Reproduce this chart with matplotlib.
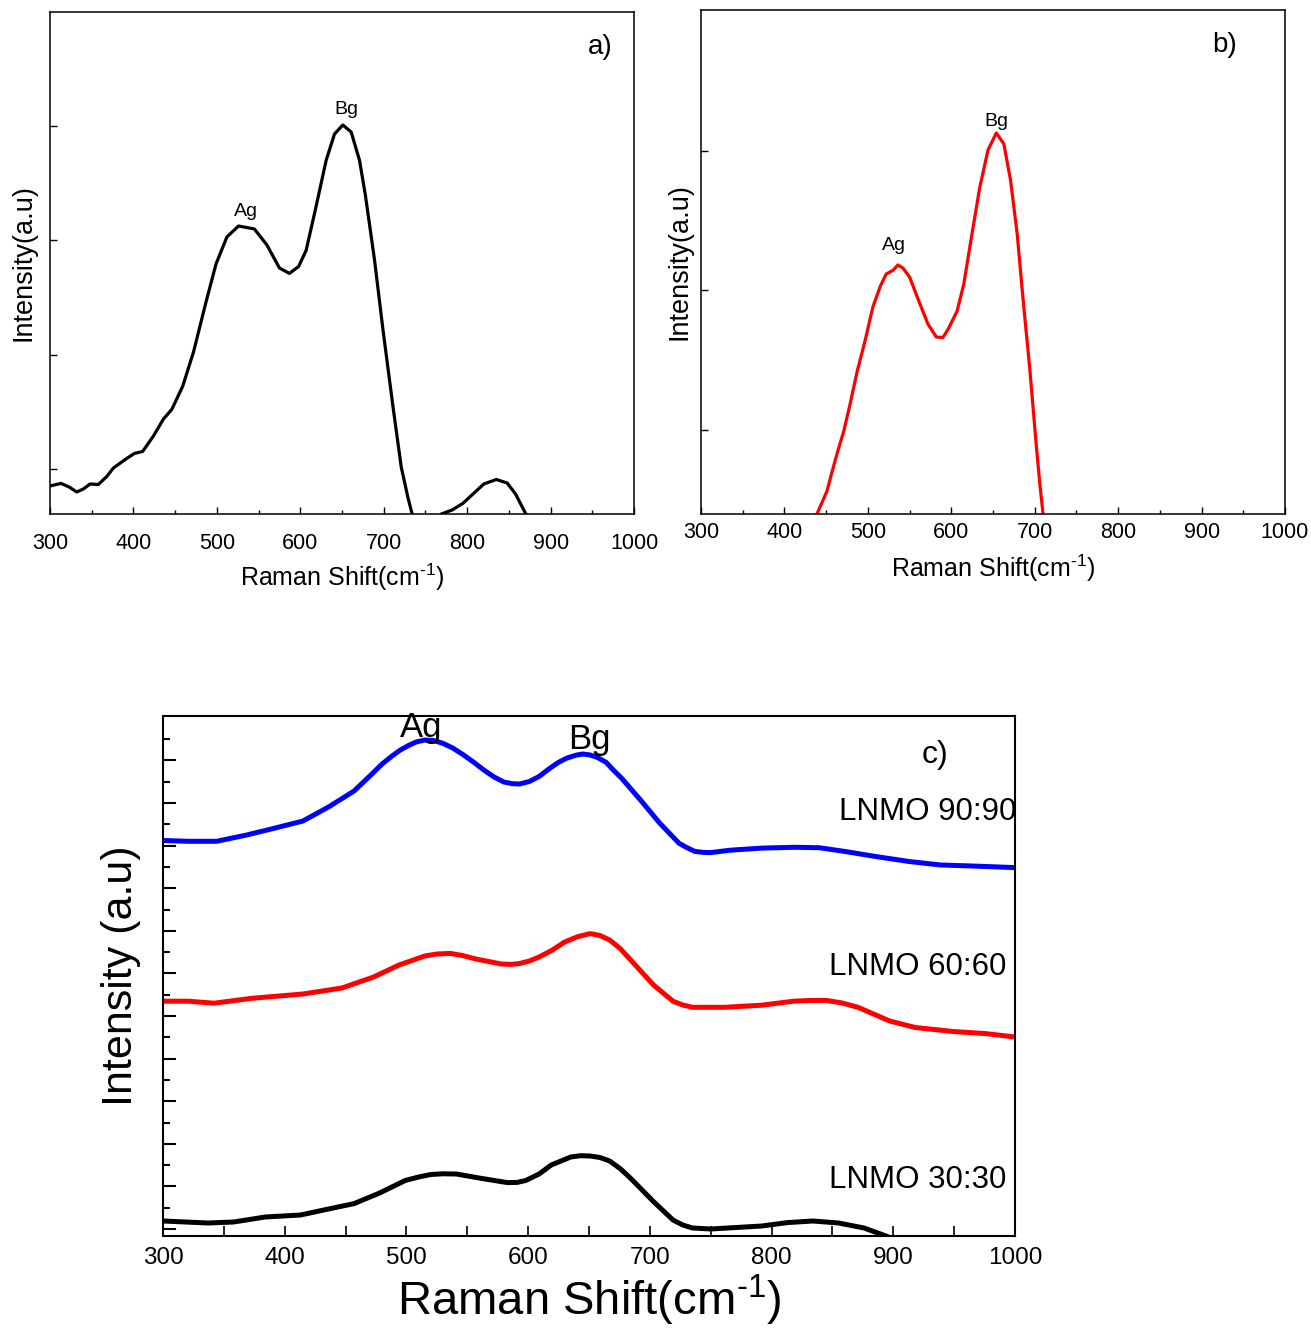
import numpy as np
import matplotlib
matplotlib.use("Agg")
import matplotlib.pyplot as plt
from matplotlib.ticker import MultipleLocator, NullFormatter

plt.rcParams['font.family'] = ['Liberation Sans', 'DejaVu Sans']
plt.rcParams['mathtext.fontset'] = 'custom'
plt.rcParams['mathtext.rm'] = 'Liberation Sans'

# ---- panel a (black spectrum) ----
a_shift = [300, 313, 323, 332, 340, 348, 358, 368, 376, 391, 401, 411, 424, 436,
           446, 459, 472, 487, 499, 512, 526, 545, 560, 575, 587, 598, 607, 618,
           631, 641, 651, 661, 671, 678, 689, 699, 711, 721, 729, 735, 750, 769,
           782, 795, 807, 820, 835, 848, 858, 871, 880]
a_int = [28, 30.6, 27, 22, 25, 30, 29.5, 37.5, 46, 55, 60.5, 62.5, 78, 95,
         104.6, 127.6, 162, 212, 250, 277, 288, 285, 269, 246, 240.6, 247.5,
         263.6, 304, 353.6, 380, 389, 382, 353.6, 319, 254, 185, 108, 47, 16.5,
         -3, -25, 0, 4, 10.7, 20, 30, 34.5, 31, 20, -1, -20]

# ---- panel b (red spectrum) ----
b_shift = [430, 439, 445, 451, 457, 464, 471, 479, 487, 497, 506, 515, 522, 530,
           536, 542, 550, 562, 572, 582, 590, 597, 607, 615, 624, 634, 644, 654,
           663, 671, 679, 686, 694, 701, 706, 710, 715]
b_int = [-30, 0, 11.5, 23, 42, 63, 82.5, 111, 142, 174.5, 207, 228, 240, 243.6,
         249, 246, 237, 211, 190, 177, 176.5, 186, 203, 230, 276, 326, 364, 381,
         370, 334, 280, 215, 146, 77, 31, 0, -20]

# ---- panel c (three samples) ----
c90_shift = [300, 321, 344, 368, 389, 415, 436, 457, 473, 480, 488, 495, 502, 508,
             515, 522, 530, 538, 546, 555, 564, 572, 580, 587, 593, 601, 609, 617,
             625, 632, 640, 645, 651, 657, 664, 670, 677, 693, 708, 724, 731, 737,
             744, 750, 766, 792, 818, 839, 860, 886, 913, 939, 965, 1000]
c90_int = [395.5, 394.7, 394.7, 400.8, 407, 415, 429, 445, 463.6, 472, 479.8, 486,
           490.7, 494, 496, 495.5, 492.7, 488, 481.8, 474, 465.6, 459, 454, 452.3,
           452, 454.5, 459.5, 467, 473.7, 478, 481, 482, 481, 478.5, 473.7, 466,
           457.5, 435, 413, 392.7, 388, 384.6, 383.6, 383.4, 385.8, 387.9, 388.7,
           388.3, 384.6, 379.4, 374.5, 371, 370, 368.4]

c60_shift = [300, 321, 342, 373, 415, 447, 473, 494, 515, 525, 536, 546, 557, 578,
             586, 593, 601, 609, 620, 630, 641, 651, 659, 667, 676, 685, 703, 719,
             727, 735, 761, 792, 818, 831, 845, 858, 871, 897, 918, 949, 976, 1000]
c60_int = [234.8, 234.8, 232.8, 237.7, 242, 248, 259, 271, 280, 282, 282.6, 280.5,
           277, 272, 271.6, 272.5, 275, 279, 286, 294, 299.5, 302.4, 300.5, 296,
           287, 275, 251, 234.8, 231, 228.7, 228.7, 230.8, 234.8, 235.5, 235.6,
           233, 228.7, 215, 208.5, 204.5, 202.4, 199]

c30_shift = [300, 337, 358, 384, 413, 436, 457, 478, 499, 510, 520, 530, 541, 562,
             583, 591, 598, 609, 619, 635, 643, 651, 659, 667, 676, 685, 703, 719,
             727, 735, 750, 792, 813, 834, 855, 876, 894, 910]
c30_int = [15, 13, 14, 19, 21, 27, 32.4, 43, 55.5, 59, 61.5, 62.2, 62, 57.5, 53.4,
           53.6, 55.5, 62, 71, 79, 80.3, 80, 78.5, 75, 67, 56.7, 34.4, 16, 11, 8, 7,
           10, 13.4, 15, 13, 8, 0, -8]

sample_labels = ["LNMO 90:90", "LNMO 60:60", "LNMO 30:30"]
x_label = r"Raman Shift(cm$^{\text{-1}}$)"

W, H = 1311, 1333
fig = plt.figure(figsize=(W / 100, H / 100), dpi=100)


def box(l, t, r, b):
    return [l / W, 1 - b / H, (r - l) / W, (b - t) / H]


def style_small(ax, yticks, pad, xlpad, ylpad):
    ax.set_xlim(300, 1000)
    ax.xaxis.set_major_locator(MultipleLocator(100))
    ax.xaxis.set_minor_locator(MultipleLocator(50))
    ax.set_yticks(yticks)
    ax.yaxis.set_major_formatter(NullFormatter())
    ax.tick_params(direction='in', top=False, right=False, labelsize=15.5,
                   length=5, width=1, pad=pad)
    ax.tick_params(which='minor', direction='in', length=3, width=1)
    for s in ax.spines.values():
        s.set_linewidth(1.1)
    ax.set_xlabel(x_label, fontsize=18, labelpad=xlpad)
    ax.set_ylabel("Intensity(a.u)", fontsize=19.5, labelpad=ylpad)


# panel a
ax_a = fig.add_axes(box(50, 12, 634, 514))
ax_a.plot(a_shift, a_int, color='black', lw=2.3, solid_joinstyle='round')
ax_a.set_ylim(0, 502)
style_small(ax_a, [45, 159.5, 274, 388.5], pad=14, xlpad=5, ylpad=-4)
ax_a.text(535, 302, "Ag", fontsize=14, ha='center', va='center')
ax_a.text(655, 404, "Bg", fontsize=14, ha='center', va='center')
ax_a.text(959, 467, "a)", fontsize=20, ha='center', va='center')

# panel b
ax_b = fig.add_axes(box(701, 10, 1285, 514))
ax_b.plot(b_shift, b_int, color='red', lw=2.3, solid_joinstyle='round')
ax_b.set_ylim(0, 504)
style_small(ax_b, [84, 224, 363], pad=6, xlpad=7, ylpad=0)
ax_b.text(531, 268, "Ag", fontsize=14, ha='center', va='center')
ax_b.text(654, 393, "Bg", fontsize=14, ha='center', va='center')
ax_b.text(927, 469, "b)", fontsize=20, ha='center', va='center')

# panel c
ax_c = fig.add_axes(box(163, 716, 1015, 1236))
ax_c.plot(c90_shift, c90_int, color='blue', lw=3.6, solid_joinstyle='round')
ax_c.plot(c60_shift, c60_int, color='red', lw=3.6, solid_joinstyle='round')
ax_c.plot(c30_shift, c30_int, color='black', lw=3.6, solid_joinstyle='round')
ax_c.set_xlim(300, 1000)
ax_c.set_ylim(0, 520)
ax_c.xaxis.set_major_locator(MultipleLocator(100))
ax_c.xaxis.set_minor_locator(MultipleLocator(50))
ax_c.set_yticks(np.arange(7, 480, 42.6))
ax_c.set_yticks(np.arange(28.3, 500, 42.6), minor=True)
ax_c.yaxis.set_major_formatter(NullFormatter())
ax_c.yaxis.set_minor_formatter(NullFormatter())
ax_c.tick_params(axis='x', which='both', direction='in', length=7, width=1.2,
                 labelsize=17.5, pad=8, top=False)
ax_c.tick_params(axis='y', which='major', direction='in', length=9, width=1.5,
                 right=False)
ax_c.tick_params(axis='y', which='minor', direction='in', length=5, width=1.5,
                 right=False)
for s in ax_c.spines.values():
    s.set_linewidth(1.5)
ax_c.set_xlabel(x_label, fontsize=34, labelpad=3)
ax_c.set_ylabel("Intensity (a.u)", fontsize=31, labelpad=12)

ax_c.text(512, 508, "Ag", fontsize=25, ha='center', va='center')
ax_c.text(650, 497, "Bg", fontsize=25, ha='center', va='center')
ax_c.text(934, 481, "c)", fontsize=23, ha='center', va='center')
ax_c.text(1001, 424, sample_labels[0], fontsize=22.5, ha='right', va='center')
ax_c.text(993, 269, sample_labels[1], fontsize=22.5, ha='right', va='center')
ax_c.text(993, 56, sample_labels[2], fontsize=22.5, ha='right', va='center')

fig.savefig("out.png", dpi=100)
